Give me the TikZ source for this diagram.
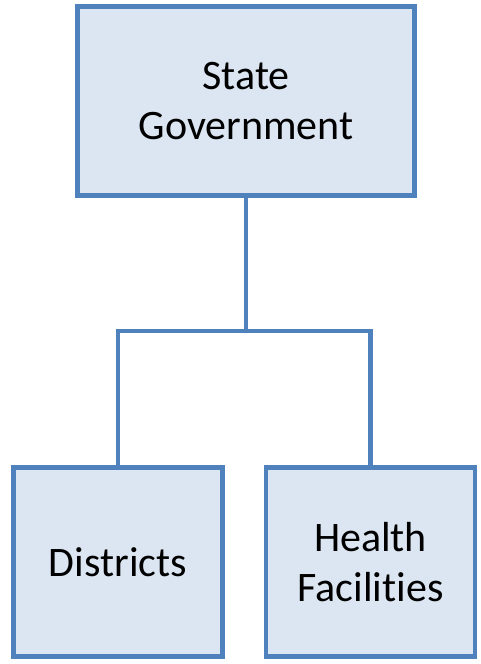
\documentclass[tikz,border=0pt]{standalone}
\usepackage{fontspec}
\setmainfont[Ligatures=NoCommon]{Carlito}
\definecolor{boxfill}{HTML}{DCE6F2}
\definecolor{boxline}{HTML}{4F81BD}
\begin{document}
\begin{tikzpicture}[x=0.75pt,y=-0.75pt,
  orgbox/.style={draw=boxline,fill=boxfill,line width=3.4pt,line join=miter,
    align=center,inner sep=0pt,minimum height=141.4pt,
    font=\fontsize{31.5}{37.5}\selectfont},
  link/.style={draw=boxline,line width=3.4pt}]
\useasboundingbox (0,0) rectangle (481,664);
% top level
\node[orgbox,minimum width=253.1pt] (state) at (246,101) {State\\Government};
% second level
\node[orgbox,minimum width=156.4pt] (dist) at (118,562) {Districts};
\node[orgbox,minimum width=156.8pt] (health) at (370.5,562) {Health\\Facilities};
% elbow connectors
\coordinate (split) at (246,331);
\draw[link] (state.south) -- (split);
\draw[link] (dist.north) |- (split) -| (health.north);
\end{tikzpicture}
\end{document}
